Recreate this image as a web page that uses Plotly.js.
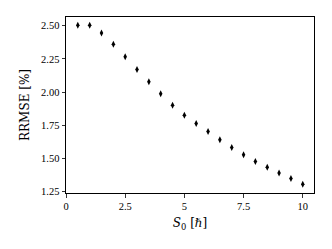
<!DOCTYPE html>
<html>
<head>
<meta charset="utf-8">
<script src="https://cdn.plot.ly/plotly-3.0.1.min.js"></script>
<style>html,body{margin:0;padding:0;background:#fff;}#chart{width:332px;height:249px;}</style>
</head>
<body>
<div id="chart"></div>
<script>
var s0 = [0.5, 1.0, 1.5, 2.0, 2.5, 3.0, 3.5, 4.0, 4.5, 5.0, 5.5, 6.0, 6.5, 7.0, 7.5, 8.0, 8.5, 9.0, 9.5, 10.0];
var rrmse = [2.503, 2.503, 2.445, 2.360, 2.265, 2.169, 2.077, 1.987, 1.900, 1.826, 1.763, 1.703, 1.640, 1.583, 1.528, 1.478, 1.433, 1.390, 1.350, 1.305];
var xTicks = [0, 2.5, 5, 7.5, 10];
var xTickText = ["0", "2.5", "5", "7.5", "10"];
var yTicks = [1.25, 1.50, 1.75, 2.00, 2.25, 2.50];
var yTickText = ["1.25", "1.50", "1.75", "2.00", "2.25", "2.50"];

var font = {family: "'Liberation Serif', 'DejaVu Serif', serif", size: 10.5, color: "#000"};
var titleFont = {family: "'DejaVu Serif', serif", size: 12, color: "#000"};

Plotly.newPlot("chart", [{
  x: s0, y: rrmse, type: "scatter", mode: "markers",
  marker: {symbol: "diamond-tall", size: 5, color: "#000"}
}], {
  width: 332, height: 249,
  margin: {l: 66, r: 18, t: 17, b: 56},
  paper_bgcolor: "#fff", plot_bgcolor: "#fff",
  font: font,
  showlegend: false,
  xaxis: {
    range: [0, 10.475], tickvals: xTicks, ticktext: xTickText,
    showgrid: false, zeroline: false, showline: true, linecolor: "#000", linewidth: 1, mirror: true,
    ticks: "outside", ticklen: 3.5, tickcolor: "#000", tickwidth: 0.8,
    tickfont: font,
    title: {text: "<i>S</i><sub>0</sub> [ℏ]", font: titleFont, standoff: 7}
  },
  yaxis: {
    range: [1.24, 2.565], tickvals: yTicks, ticktext: yTickText,
    showgrid: false, zeroline: false, showline: true, linecolor: "#000", linewidth: 1, mirror: true,
    ticks: "outside", ticklen: 3.5, tickcolor: "#000", tickwidth: 0.8,
    tickfont: font,
    title: {text: "RRMSE [%]", font: titleFont, standoff: 8}
  }
}, {displayModeBar: false, staticPlot: true});
</script>
</body>
</html>
